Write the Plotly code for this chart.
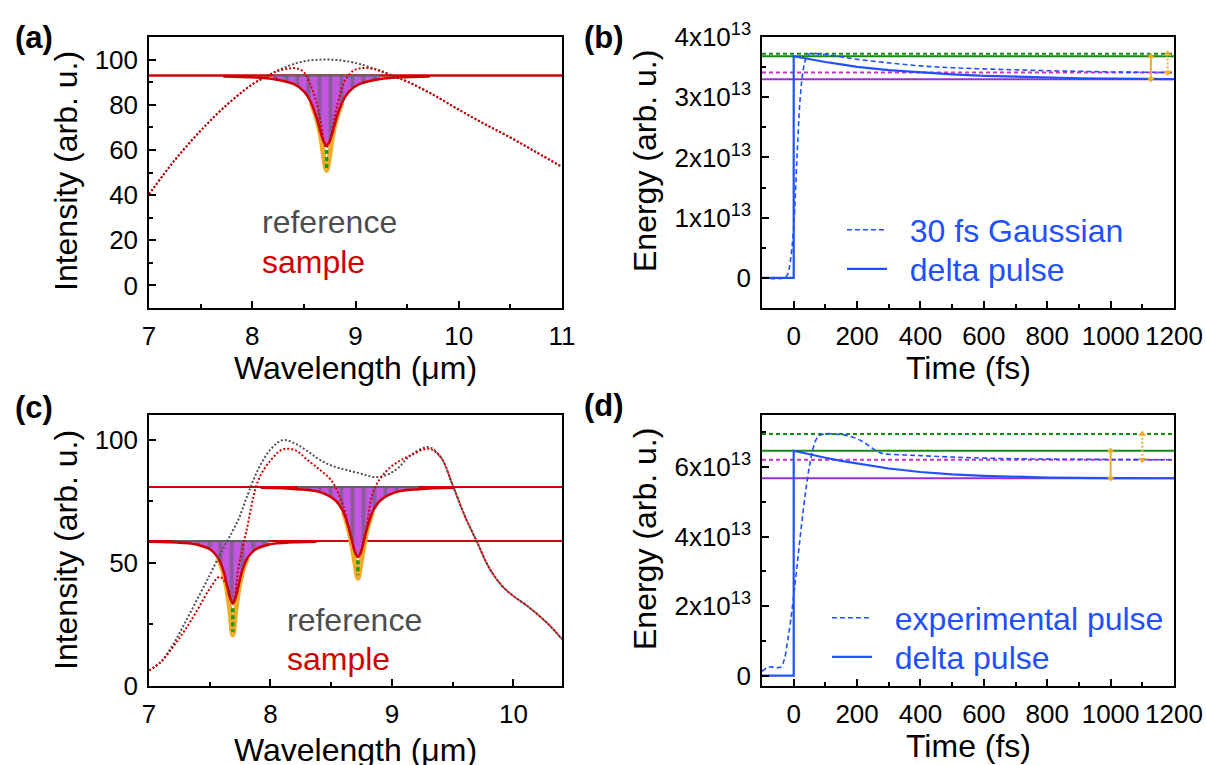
import plotly.graph_objects as go

W, H = 1206, 765
FONT = "Liberation Sans, Arial, sans-serif"

GRAY = "#505050"
RED = "#d00000"
BLUE = "#2050ff"
GREEN = "#138a13"
MAGENTA = "#cc33cc"
PURPLE = "#9a2fd0"
ORANGE = "#f0ac28"
STRIPE_BG = "#c455e0"
STRIPE_FG = "#4a6452"

# ---------------- panel (a) ----------------
a_lam = [7.0, 7.25, 7.5, 7.75, 8.0, 8.15, 8.25, 8.35, 8.42, 8.5, 8.55, 8.6, 8.64, 8.68, 8.715,
         8.75, 8.8, 8.85, 8.9, 8.97, 9.05, 9.15, 9.25, 9.38, 9.5, 9.75, 10.0, 10.25, 10.5, 10.75, 11.0]
a_reference = [40.3, 55.5, 68.5, 79.8, 89.0, 92.8, 95.3, 97.2, 98.3, 99.2, 99.6, 99.8, 99.95, 100, 100,
               100, 99.9, 99.7, 99.4, 98.8, 97.9, 96.4, 94.6, 92.3, 90.3, 84.5, 77.8, 71.5, 65.5, 59.0, 52.5]
a_sample = [40.3, 55.5, 68.5, 79.8, 89.0, 92.8, 95.0, 96.0, 96.2, 94.5, 90.0, 84.5, 77.5, 68.0, 61.0,
            64.0, 75.0, 84.5, 90.8, 94.8, 96.2, 96.0, 95.0, 92.4, 90.3, 84.5, 77.8, 71.5, 65.5, 59.0, 52.5]
a_level = 93.0
a_dip_lam = [7.72, 8.0, 8.2, 8.4, 8.5, 8.57, 8.62, 8.645, 8.67, 8.695, 8.72,
             8.745, 8.77, 8.795, 8.82, 8.87, 8.94, 9.04, 9.24, 9.44, 9.72]
a_dip_sample = [92.56, 92.16, 91.43, 89.2, 85.9, 80.9, 74.7, 70.7, 66.6, 63.3, 62.0,
                63.3, 66.6, 70.7, 74.7, 80.9, 85.9, 89.2, 91.43, 92.16, 92.56]
a_fill_slice = (2, -2)
a_deep_lam = [8.57, 8.62, 8.645, 8.67, 8.695, 8.72, 8.745, 8.77, 8.795, 8.82, 8.87]
a_deep = [80.9, 74.5, 70.0, 64.0, 56.0, 51.0, 56.0, 64.0, 70.0, 74.5, 80.9]
a_green_lam = [8.72, 8.72]
a_green = [60.0, 51.5]

# ---------------- panel (b) ----------------
b_t_gauss = [-100, -30, -20, -10, 0, 10, 20, 30, 40, 50, 60, 80, 100, 150, 200, 300, 400,
             500, 600, 700, 800, 900, 1000, 1100, 1200]
b_gauss = [0, 0, 0.05, 0.3, 0.85, 1.95, 2.95, 3.45, 3.66, 3.72, 3.73, 3.72, 3.71, 3.67, 3.63,
           3.57, 3.52, 3.49, 3.47, 3.455, 3.44, 3.43, 3.42, 3.415, 3.41]
b_t_delta = [-100, 0, 0, 50, 100, 150, 200, 300, 400, 500, 600, 700, 800, 900, 1000, 1200]
b_delta = [0, 0, 3.68, 3.63, 3.585, 3.545, 3.505, 3.45, 3.41, 3.38, 3.355, 3.34, 3.325,
           3.315, 3.31, 3.30]
b_levels = {"green_dash": 3.72, "green": 3.68, "magenta_dash": 3.41, "purple": 3.30}
b_arrow_t = [1127, 1180]

# ---------------- panel (c) ----------------
c_lam = [7.0, 7.1, 7.2, 7.3, 7.4, 7.5, 7.58, 7.64, 7.69, 7.74, 7.8, 7.9, 8.0, 8.1, 8.2, 8.3, 8.4,
         8.5, 8.6, 8.66, 8.72, 8.78, 8.85, 8.95, 9.05, 9.15, 9.3, 9.4, 9.5, 9.6, 9.7, 9.8, 9.9,
         10.0, 10.1, 10.2, 10.3, 10.4]
c_reference = [6.3, 10.0, 17.0, 26.0, 35.5, 45.0, 53.0, 58.5, 63.0, 68.0, 76.0, 88.0, 96.0, 99.8,
               98.5, 95.5, 92.0, 89.5, 88.0, 87.2, 86.5, 85.7, 84.8, 85.5, 88.5, 93.5, 97.0, 93.0,
               81.5, 69.0, 58.5, 48.0, 41.0, 36.5, 33.0, 29.0, 24.5, 19.0]
c_sample = [6.3, 9.8, 16.0, 23.0, 31.0, 39.5, 44.3, 41.0, 33.5, 49.0, 62.5, 83.5, 91.5, 96.0,
            95.8, 92.0, 88.0, 83.5, 73.0, 61.0, 52.4, 62.0, 79.4, 87.0, 91.0, 93.5, 96.3, 93.0,
            81.5, 69.0, 58.5, 48.0, 41.0, 36.5, 33.0, 29.0, 24.5, 19.0]
c_level1 = 58.9
c_level2 = 80.8
c_dip1_lam = [7.0, 7.19, 7.39, 7.51, 7.57, 7.61, 7.64, 7.665, 7.69, 7.715, 7.74, 7.77, 7.81,
              7.87, 7.99, 8.19, 8.38]
c_dip1_sample = [58.6, 58.36, 57.45, 55.2, 51.9, 47.2, 41.4, 36.1, 33.5, 36.1, 41.4, 47.2, 51.9,
                 55.2, 57.45, 58.36, 58.6]
c_dip1_fill_slice = (1, -2)
c_dip1_deep_lam = [7.57, 7.61, 7.64, 7.665, 7.69, 7.715, 7.74, 7.77, 7.81]
c_dip1_deep = [51.9, 46.5, 39.5, 31.0, 20.7, 31.0, 39.5, 46.5, 51.9]
c_dip2_lam = [7.92, 8.22, 8.42, 8.54, 8.60, 8.64, 8.67, 8.695, 8.72, 8.745, 8.77, 8.80, 8.84,
              8.90, 9.02, 9.22, 9.52]
c_dip2_sample = [80.45, 79.9, 78.5, 75.1, 70.6, 64.9, 59.1, 54.4, 52.4, 54.4, 59.1, 64.9, 70.6,
                 75.1, 78.5, 79.9, 80.45]
c_dip2_fill_slice = (1, -1)
c_dip2_deep_lam = [8.60, 8.64, 8.67, 8.695, 8.72, 8.745, 8.77, 8.80, 8.84]
c_dip2_deep = [70.6, 64.3, 57.0, 50.0, 43.7, 50.0, 57.0, 64.3, 70.6]
c_green1_lam = [7.69, 7.69]
c_green1 = [31.6, 22.0]
c_green2_lam = [8.72, 8.72]
c_green2 = [51.0, 45.0]

# ---------------- panel (d) ----------------
d_t_exp = [-100, -85, -70, -55, -40, -30, -20, -10, 0, 10, 20, 30, 40, 50, 60, 70, 80, 100, 130,
           160, 190, 220, 240, 260, 280, 300, 350, 400, 500, 600, 700, 800, 1000, 1200]
d_exp = [0.12, 0.22, 0.25, 0.23, 0.25, 0.45, 0.95, 1.55, 2.3, 3.1, 3.95, 4.75, 5.45, 6.05, 6.5,
         6.78, 6.9, 6.96, 6.95, 6.92, 6.85, 6.72, 6.6, 6.47, 6.39, 6.37, 6.35, 6.33, 6.29, 6.26,
         6.24, 6.23, 6.22, 6.21]
d_t_delta = [-100, 0, 0, 50, 100, 150, 200, 300, 400, 500, 600, 700, 800, 1000, 1200]
d_delta = [0, 0, 6.47, 6.36, 6.27, 6.18, 6.1, 5.96, 5.86, 5.79, 5.75, 5.72, 5.70, 5.685, 5.68]
d_levels = {"green_dash": 6.95, "green": 6.47, "magenta_dash": 6.21, "purple": 5.68}
d_arrow_t = [1000, 1100]


# ---------------- layout geometry (window pixels) ----------------
def px_x(p):
    return p / W


def px_y(p):
    return 1 - p / H


DOM_X_LEFT = [px_x(149), px_x(562)]
DOM_X_RIGHT = [px_x(762), px_x(1174)]
DOM_Y_TOP = [px_y(308), px_y(37)]
DOM_Y_BOT = [px_y(686), px_y(415)]

fig = go.Figure()


def hline(xr, level, color, dash, width, xa, ya):
    fig.add_trace(go.Scatter(x=xr, y=[level, level], mode="lines", xaxis=xa, yaxis=ya,
                             line=dict(color=color, width=width, dash=dash),
                             showlegend=False, hoverinfo="skip"))


def dip(lam, sample, fill_slice, level, deep_lam, deep, glam, gval, xa, ya):
    i0, i1 = fill_slice
    fig.add_trace(go.Scatter(x=deep_lam, y=deep, mode="lines", xaxis=xa, yaxis=ya,
                             line=dict(color=ORANGE, width=5, shape="spline"),
                             showlegend=False, hoverinfo="skip"))
    fig.add_trace(go.Scatter(x=glam, y=gval, mode="lines", xaxis=xa, yaxis=ya,
                             line=dict(color="#1a9a1a", width=3.5, dash="4px,3px"),
                             showlegend=False, hoverinfo="skip"))
    flam = lam[i0:i1]
    fig.add_trace(go.Scatter(x=flam, y=[level] * len(flam), mode="lines", xaxis=xa, yaxis=ya,
                             line=dict(color="#606060", width=2),
                             showlegend=False, hoverinfo="skip"))
    fig.add_trace(go.Scatter(x=flam, y=sample[i0:i1], mode="lines", xaxis=xa, yaxis=ya,
                             fill="tonexty",
                             fillpattern=dict(shape="|", bgcolor=STRIPE_BG, fgcolor=STRIPE_FG,
                                              size=11, solidity=0.35),
                             line=dict(width=0, color=RED),
                             showlegend=False, hoverinfo="skip"))
    fig.add_trace(go.Scatter(x=lam, y=sample, mode="lines", xaxis=xa, yaxis=ya,
                             line=dict(color=RED, width=2.5, shape="spline"),
                             showlegend=False, hoverinfo="skip"))


# ---- (a)
hline([7, 11], a_level, RED, "solid", 2.5, "x", "y")
dip(a_dip_lam, a_dip_sample, a_fill_slice, a_level, a_deep_lam, a_deep, a_green_lam, a_green,
    "x", "y")
fig.add_trace(go.Scatter(x=a_lam, y=a_reference, mode="lines", xaxis="x", yaxis="y",
                         line=dict(color=GRAY, width=2, dash="2px,2px", shape="spline"),
                         showlegend=False))
fig.add_trace(go.Scatter(x=a_lam, y=a_sample, mode="lines", xaxis="x", yaxis="y",
                         line=dict(color=RED, width=2, dash="2px,2px", shape="spline"),
                         showlegend=False))

# ---- (c)
hline([7, 10.4], c_level1, RED, "solid", 2, "x3", "y3")
hline([7, 10.4], c_level2, RED, "solid", 2, "x3", "y3")
dip(c_dip1_lam, c_dip1_sample, c_dip1_fill_slice, c_level1, c_dip1_deep_lam, c_dip1_deep,
    c_green1_lam, c_green1, "x3", "y3")
dip(c_dip2_lam, c_dip2_sample, c_dip2_fill_slice, c_level2, c_dip2_deep_lam, c_dip2_deep,
    c_green2_lam, c_green2, "x3", "y3")
fig.add_trace(go.Scatter(x=c_lam, y=c_reference, mode="lines", xaxis="x3", yaxis="y3",
                         line=dict(color=GRAY, width=2, dash="2px,2px", shape="spline"),
                         showlegend=False))
fig.add_trace(go.Scatter(x=c_lam, y=c_sample, mode="lines", xaxis="x3", yaxis="y3",
                         line=dict(color=RED, width=2, dash="2px,2px", shape="spline"),
                         showlegend=False))


def energy_panel(levels, t_pulse, pulse, pulse_name, t_delta, delta, arrow_t, xa, ya,
                 leg_pulse, leg_delta):
    xr = [-100, 1200]
    hline(xr, levels["green_dash"], GREEN, "4px,3px", 2, xa, ya)
    hline(xr, levels["green"], GREEN, "solid", 2, xa, ya)
    hline(xr, levels["magenta_dash"], MAGENTA, "4px,3px", 2, xa, ya)
    hline(xr, levels["purple"], PURPLE, "solid", 2, xa, ya)
    fig.add_trace(go.Scatter(x=t_pulse, y=pulse, mode="lines", xaxis=xa, yaxis=ya,
                             name="\u00a0\u00a0" + pulse_name, legend=leg_pulse,
                             line=dict(color=BLUE, width=1.6, dash="5px,3px", shape="spline")))
    fig.add_trace(go.Scatter(x=t_delta, y=delta, mode="lines", xaxis=xa, yaxis=ya,
                             name="\u00a0\u00a0delta pulse", legend=leg_delta,
                             line=dict(color=BLUE, width=2.2)))
    pairs = [(arrow_t[0], levels["purple"], levels["green"], "solid"),
             (arrow_t[1], levels["magenta_dash"], levels["green_dash"], "2px,2px")]
    for t, lo, hi, dsh in pairs:
        fig.add_trace(go.Scatter(x=[t, t], y=[lo, hi], mode="lines+markers", xaxis=xa, yaxis=ya,
                                 line=dict(color=ORANGE, width=2, dash=dsh),
                                 marker=dict(symbol=["triangle-down", "triangle-up"], size=7,
                                             color=ORANGE),
                                 showlegend=False, hoverinfo="skip"))


energy_panel(b_levels, b_t_gauss, b_gauss, "30 fs Gaussian", b_t_delta, b_delta, b_arrow_t,
             "x2", "y2", "legend", "legend2")
energy_panel(d_levels, d_t_exp, d_exp, "experimental pulse", d_t_delta, d_delta, d_arrow_t,
             "x4", "y4", "legend3", "legend4")


def axis(domain, rng, anchor, tickvals, ticktext, minor_dtick, minor_tick0):
    return dict(domain=domain, range=rng, anchor=anchor, automargin=False,
                showline=True, linecolor="black",
                linewidth=1.5, mirror=True, ticks="inside", ticklen=7, tickwidth=1.5,
                tickcolor="black", showgrid=False, zeroline=False,
                tickmode="array", tickvals=tickvals, ticktext=ticktext,
                tickfont=dict(size=26, color="black", family=FONT),
                ticklabelstandoff=4,
                minor=dict(ticks="inside", ticklen=4, tickwidth=1.5, tickcolor="black",
                           tickmode="linear", tick0=minor_tick0, dtick=minor_dtick,
                           showgrid=False))


def sup(m):
    return f"{m}x10<sup>13</sup>"


def legend_at(x, y):
    return dict(x=px_x(x), y=px_y(y), xanchor="left", yanchor="middle",
                bgcolor="rgba(0,0,0,0)", font=dict(size=32, color=BLUE, family=FONT),
                itemwidth=40, traceorder="normal")


layout = dict(
    width=W, height=H, margin=dict(l=0, r=0, t=0, b=0, autoexpand=False),
    paper_bgcolor="white", plot_bgcolor="white",
    font=dict(family=FONT, color="black"),
    xaxis=axis(DOM_X_LEFT, [7, 11], "y", [7, 8, 9, 10, 11], ["7", "8", "9", "10", "11"], 0.5, 7),
    yaxis=axis(DOM_Y_TOP, [-10, 110], "x", [0, 20, 40, 60, 80, 100],
               ["0", "20", "40", "60", "80", "100"], 10, 0),
    xaxis2=axis(DOM_X_RIGHT, [-100, 1200], "y2", [0, 200, 400, 600, 800, 1000, 1200],
                ["0", "200", "400", "600", "800", "1000", "1200"], 100, 0),
    yaxis2=axis(DOM_Y_TOP, [-0.5, 4.0], "x2", [0, 1, 2, 3, 4],
                ["0", sup(1), sup(2), sup(3), sup(4)], 0.5, 0),
    xaxis3=axis(DOM_X_LEFT, [7, 10.4], "y3", [7, 8, 9, 10], ["7", "8", "9", "10"], 0.5, 7),
    yaxis3=axis(DOM_Y_BOT, [0, 110], "x3", [0, 50, 100], ["0", "50", "100"], 25, 0),
    xaxis4=axis(DOM_X_RIGHT, [-100, 1200], "y4", [0, 200, 400, 600, 800, 1000, 1200],
                ["0", "200", "400", "600", "800", "1000", "1200"], 100, 0),
    yaxis4=axis(DOM_Y_BOT, [-0.3, 7.5], "x4", [0, 2, 4, 6], ["0", sup(2), sup(4), sup(6)], 1, 0),
    legend=legend_at(842, 230),
    legend2=legend_at(842, 269),
    legend3=legend_at(827, 618),
    legend4=legend_at(827, 657),
    showlegend=True,
)
fig.update_layout(**layout)

ann = []


def text(x, y, s, size=32, color="black", angle=0, xanchor="center"):
    ann.append(dict(x=px_x(x), y=px_y(y), xref="paper", yref="paper", text=s, showarrow=False,
                    xanchor=xanchor, yanchor="middle", textangle=angle,
                    font=dict(size=size, color=color, family=FONT)))


# panel labels
text(13, 37, "<b>(a)</b>", 31, xanchor="left")
text(582, 37, "<b>(b)</b>", 31, xanchor="left")
text(13, 407, "<b>(c)</b>", 31, xanchor="left")
text(582, 405, "<b>(d)</b>", 31, xanchor="left")
# axis titles
text(355.5, 368, "Wavelength (μm)")
text(968, 368, "Time (fs)")
text(355.5, 750, "Wavelength (μm)")
text(968, 746, "Time (fs)")
text(66, 171, "Intensity (arb. u.)", angle=-90)
text(645, 161, "Energy (arb. u.)", angle=-90)
text(66, 550, "Intensity (arb. u.)", angle=-90)
text(645, 539, "Energy (arb. u.)", angle=-90)
# in-plot labels
text(260, 222, "reference", 32, "#4d4d4d", xanchor="left")
text(260, 262, "sample", 32, RED, xanchor="left")
text(285, 620, "reference", 32, "#4d4d4d", xanchor="left")
text(285, 659, "sample", 32, RED, xanchor="left")

fig.update_layout(annotations=ann)
# the page body gets no margin, so the 1206x765 figure fills the window exactly
fig.write_html("out.html", config={"displayModeBar": False},
               post_script="document.body.style.margin='0';"
                           "document.body.style.overflow='hidden';")
